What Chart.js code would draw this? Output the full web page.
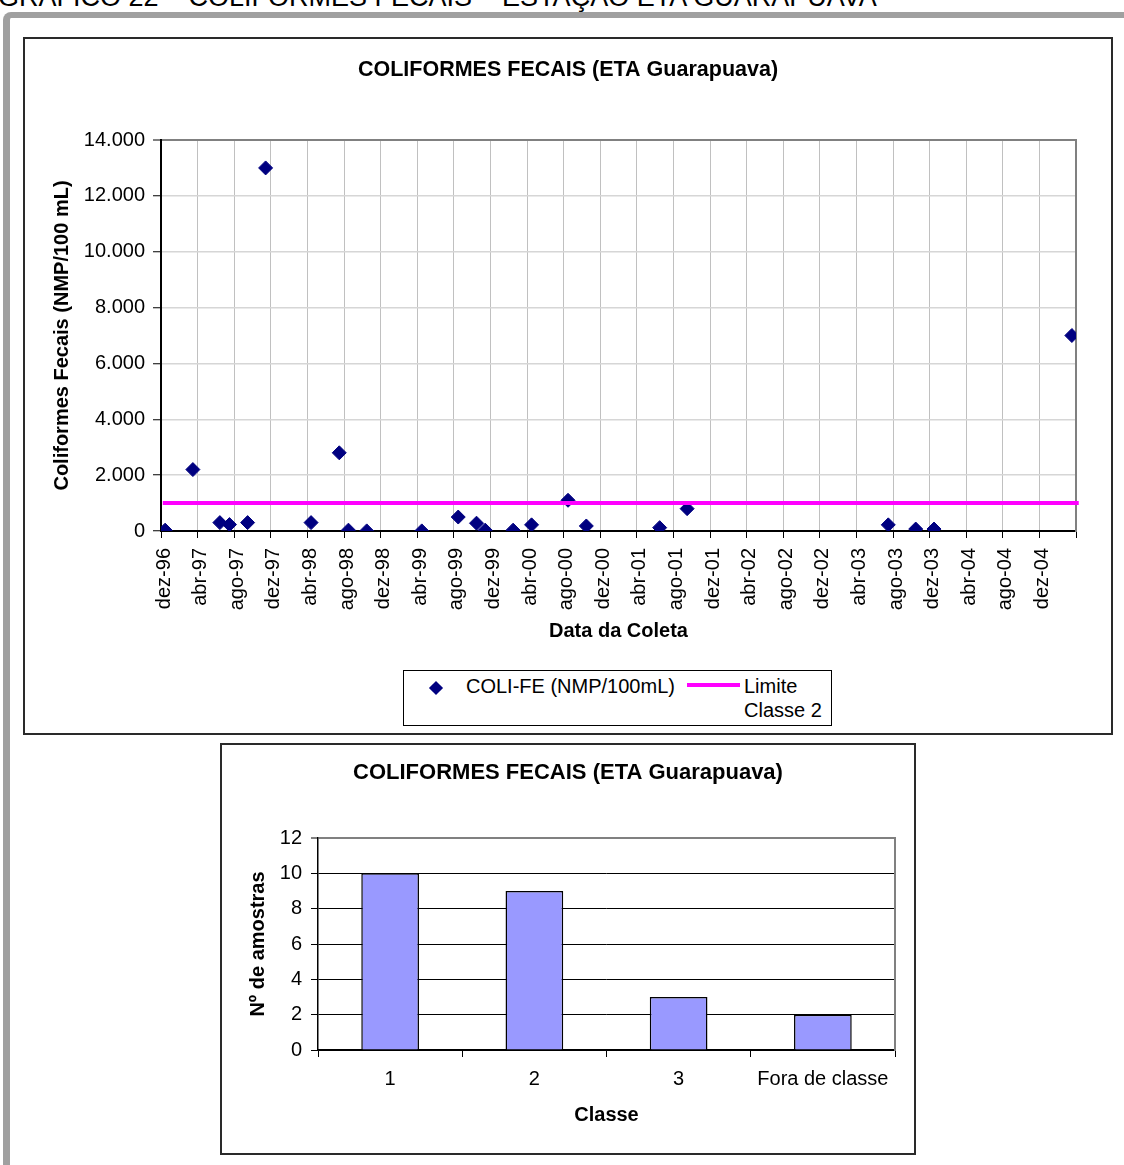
<!DOCTYPE html>
<html><head><meta charset="utf-8">
<script src="https://cdn.jsdelivr.net/npm/chart.js@4.4.1/dist/chart.umd.min.js"></script>
<style>
html,body{margin:0;padding:0;background:#fff;overflow:hidden;}
body{width:1124px;height:1165px;position:relative;font-family:'Liberation Sans',Arial,sans-serif;color:#000;}
.abs{position:absolute;}
#heading{left:-2px;top:-16px;font-size:27px;line-height:27px;white-space:nowrap;}
#frame{left:3px;top:12px;width:1200px;height:1300px;border-left:7px solid #a0a0a0;border-top:6px solid #a0a0a0;border-top-left-radius:8px;}
#box1{left:23px;top:37px;width:1090px;height:698px;border:2px solid #2a2a2a;box-sizing:border-box;background:#fff;}
#box2{left:220px;top:743px;width:696px;height:412px;border:2px solid #2a2a2a;box-sizing:border-box;background:#fff;}
#c1{left:25px;top:39px;}
#c2{left:222px;top:745px;}
#legend{left:403px;top:670px;width:429px;height:56px;border:1px solid #000;box-sizing:border-box;background:#fff;}
.lg{position:absolute;font-size:20px;line-height:20px;white-space:nowrap;}
</style>
</head>
<body>
<div id="heading" class="abs">GRÁFICO 22 – COLIFORMES FECAIS – ESTAÇÃO ETA GUARAPUAVA</div>
<div id="frame" class="abs"></div>
<div id="box1" class="abs"></div>
<canvas id="c1" class="abs" width="1086" height="694"></canvas>
<div id="legend" class="abs"></div>
<div class="abs" style="left:431px;top:682.5px;width:10px;height:10px;background:#000080;transform:rotate(45deg);"></div>
<div class="lg" style="left:466px;top:676px;">COLI-FE (NMP/100mL)</div>
<div class="abs" style="left:687px;top:682.5px;width:53px;height:4px;background:#ff00ff;"></div>
<div class="lg" style="left:744px;top:676px;">Limite</div>
<div class="lg" style="left:744px;top:700px;">Classe 2</div>
<div id="box2" class="abs"></div>
<canvas id="c2" class="abs" width="692" height="408"></canvas>
<script>
// ---------- Data: chart 1 (scatter over time) ----------
const sampleDates = ['1996-12-15','1997-03-16','1997-06-14','1997-07-16','1997-09-15','1997-11-14',
  '1998-04-13','1998-07-16','1998-08-16','1998-10-16','1999-04-16','1999-08-16','1999-10-16','1999-11-14',
  '2000-02-15','2000-04-16','2000-08-16','2000-10-16','2001-06-16','2001-09-16','2003-07-16','2003-10-16',
  '2003-12-16','2005-03-18'];
const coliFe = [30, 2200, 300, 230, 300, 13000, 300, 2800, 30, 4, 4, 500, 280, 30,
  30, 220, 1100, 180, 120, 800, 220, 70, 70, 7000];
const limitDates = ['1996-12-07','2005-04-10'];
const limitValues = [1000, 1000];
const xTickLabels = ['dez-96','abr-97','ago-97','dez-97','abr-98','ago-98','dez-98','abr-99','ago-99','dez-99',
  'abr-00','ago-00','dez-00','abr-01','ago-01','dez-01','abr-02','ago-02','dez-02','abr-03','ago-03','dez-03',
  'abr-04','ago-04','dez-04',''];
const yTickLabels = ['0','2.000','4.000','6.000','8.000','10.000','12.000','14.000'];

// ---------- Data: chart 2 (bars by class) ----------
const classes = ['1','2','3','Fora de classe'];
const classCounts = [10, 9, 3, 2];

// months since 1 Dec 1996
function toMonths(s){
  const [y,m,d] = s.split('-').map(Number);
  const dim = new Date(y, m, 0).getDate();
  return (y-1996)*12 + (m-12) + (d-1)/dim;
}

Chart.defaults.font.family = "'Liberation Sans', Arial, sans-serif";
Chart.defaults.color = '#000';
Chart.defaults.animation = false;

const FONT_T = {size:20, weight:'bold'};
const FONT_K = {size:20};

new Chart(document.getElementById('c1'), {
  type: 'scatter',
  data: {
    datasets: [
      {
        label: 'Limite Classe 2',
        type: 'line',
        data: limitDates.map((d,i)=>({x: toMonths(d), y: limitValues[i]})),
        borderColor: '#ff00ff',
        borderWidth: 4,
        pointRadius: 0,
        showLine: true,
        clip: false,
        order: 0
      },
      {
        label: 'COLI-FE (NMP/100mL)',
        data: sampleDates.map((d,i)=>({x: toMonths(d), y: coliFe[i]})),
        pointStyle: 'rectRot',
        pointRadius: 7,
        backgroundColor: '#000080',
        borderColor: '#000080',
        borderWidth: 1,
        order: 1
      }
    ]
  },
  options: {
    responsive: false,
    layout: {padding: 0},
    plugins: {
      legend: {display: false},
      tooltip: {enabled: false},
      title: {display: true, text: 'COLIFORMES FECAIS (ETA Guarapuava)', font: {size: 21.5, weight: 'bold'},
        padding: {top: 18.1, bottom: 57.1}}
    },
    scales: {
      x: {
        type: 'linear', min: 0, max: 100,
        afterFit: s => { s.height = 202; },
        ticks: {stepSize: 4, autoSkip: false, minRotation: 90, maxRotation: 90, padding: 10, font: FONT_K,
          labelOffset: 3, callback: (v, i) => xTickLabels[i]},
        grid: {color: c => (c.tick && c.tick.value === 100) ? '#808080' : '#c0c0c0', lineWidth: 1,
          tickColor: '#000', tickLength: 7, tickWidth: 1},
        border: {color: '#000', width: 2},
        title: {display: true, text: 'Data da Coleta', font: FONT_T, padding: {top: 0, bottom: 90}}
      },
      y: {
        min: 0, max: 14000,
        afterFit: s => { s.width = 136; },
        ticks: {stepSize: 2000, padding: 8, font: FONT_K, callback: (v, i) => yTickLabels[i]},
        grid: {color: c => (c.tick && c.tick.value === 14000) ? '#808080' : '#d6d6d6',
          lineWidth: c => (c.tick && c.tick.value === 14000) ? 2 : 1.5,
          tickColor: '#000', tickLength: 8, tickWidth: 1},
        border: {color: '#000', width: 2},
        title: {display: true, text: 'Coliformes Fecais (NMP/100 mL)', font: FONT_T, padding: {top: 25, bottom: 0}}
      },
      y2: {
        position: 'right', display: true,
        afterFit: s => { s.width = 35; },
        grid: {display: false}, ticks: {display: false},
        border: {display: true, color: '#808080', width: 2}
      }
    }
  }
});

new Chart(document.getElementById('c2'), {
  type: 'bar',
  data: {
    labels: classes,
    datasets: [{
      label: 'Nº de amostras',
      data: classCounts,
      backgroundColor: '#9999ff',
      borderColor: '#000',
      borderWidth: 1.5,
      barPercentage: 0.4,
      categoryPercentage: 1
    }]
  },
  options: {
    responsive: false,
    layout: {padding: 0},
    plugins: {
      legend: {display: false},
      tooltip: {enabled: false},
      title: {display: true, text: 'COLIFORMES FECAIS (ETA Guarapuava)', font: {size: 22, weight: 'bold'},
        padding: {top: 14.8, bottom: 51.8}}
    },
    scales: {
      x: {
        afterFit: s => { s.height = 103; },
        ticks: {padding: 10, font: FONT_K},
        grid: {display: true, drawOnChartArea: false, drawTicks: true, offset: true,
          tickColor: '#000', tickLength: 7, tickWidth: 1},
        border: {color: '#000', width: 1.5},
        title: {display: true, text: 'Classe', font: FONT_T, padding: {top: 0, bottom: 26}}
      },
      y: {
        min: 0, max: 12,
        afterFit: s => { s.width = 96; },
        ticks: {stepSize: 2, padding: 9, font: FONT_K},
        grid: {color: c => (c.tick && c.tick.value === 12) ? '#808080' : '#000',
          lineWidth: c => (c.tick && c.tick.value === 12) ? 2 : 1,
          tickColor: '#000', tickLength: 7, tickWidth: 1},
        border: {color: '#000', width: 1.5},
        title: {display: true, text: 'Nº de amostras', font: FONT_T, padding: {top: 24, bottom: 0}}
      },
      y2: {
        position: 'right', display: true,
        afterFit: s => { s.width = 19; },
        grid: {display: false}, ticks: {display: false},
        border: {display: true, color: '#808080', width: 2}
      }
    }
  }
});
</script>
</body></html>
